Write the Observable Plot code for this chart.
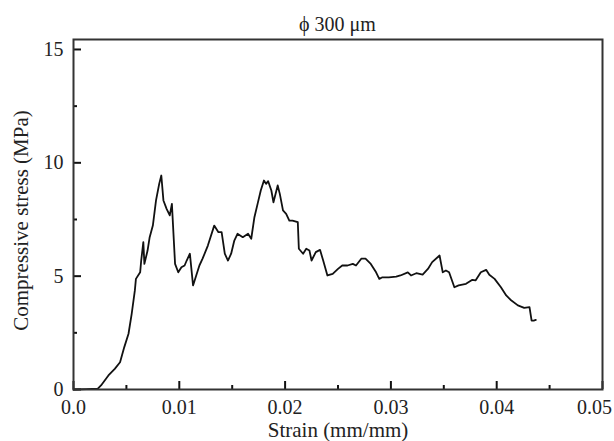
<!DOCTYPE html>
<html>
<head>
<meta charset="utf-8">
<script src="https://cdn.jsdelivr.net/npm/d3@7"></script>
<script src="https://cdn.jsdelivr.net/npm/@observablehq/plot@0.6"></script>
<style>
  html, body { margin: 0; padding: 0; background: #fff; }
  #wrap { position: relative; width: 614px; height: 441px; font-family: "Liberation Serif", "Times New Roman", serif; }
  #title { position: absolute; left: 73px; width: 529px; top: 0; text-align: center; font-size: 20px; line-height: 20px; padding-top: 14px; color: #222; }
</style>
</head>
<body>
<div id="wrap"><div id="title"></div></div>
<script>
const titleText = "ϕ 300 μm";
const xLabel = "Strain (mm/mm)";
const yLabel = "Compressive stress (MPa)";

const strain = [0, 0.0012, 0.0023, 0.0026, 0.0033, 0.0039, 0.0044, 0.0048, 0.0052, 0.0055,
  0.0058, 0.0059, 0.0063, 0.0064, 0.0066, 0.0067, 0.0070, 0.0072, 0.0075, 0.0078,
  0.0081, 0.0083, 0.0085, 0.0088, 0.0091, 0.0093, 0.0096, 0.0099, 0.0102, 0.0105,
  0.0107, 0.0110, 0.0113, 0.0116, 0.0119, 0.0122, 0.0127, 0.0133, 0.0137, 0.0140,
  0.0143, 0.0146, 0.0149, 0.0152, 0.0155, 0.0160, 0.0165, 0.0168, 0.0171, 0.0174,
  0.0177, 0.0180, 0.0182, 0.0184, 0.0187, 0.0189, 0.0193, 0.0195, 0.0198, 0.0201,
  0.0204, 0.0207, 0.0212, 0.0213, 0.0217, 0.0220, 0.0223, 0.0225, 0.0229, 0.0233,
  0.0236, 0.0240, 0.0245, 0.0250, 0.0254, 0.0259, 0.0264, 0.0267, 0.0272, 0.0276,
  0.0281, 0.0286, 0.0289, 0.0292, 0.0298, 0.0305, 0.0309, 0.0316, 0.0319, 0.0324,
  0.0330, 0.0335, 0.0339, 0.0346, 0.0349, 0.0352, 0.0355, 0.0360, 0.0364, 0.0371,
  0.0377, 0.0380, 0.0385, 0.0390, 0.0393, 0.0398, 0.0404, 0.0409, 0.0413, 0.0420,
  0.0426, 0.0431, 0.0433, 0.0435, 0.0437];

const stress = [0, 0.02, 0.04, 0.18, 0.62, 0.91, 1.20, 1.87, 2.46, 3.34,
  4.37, 4.88, 5.17, 5.69, 6.50, 5.54, 6.13, 6.72, 7.23, 8.34,
  9.07, 9.44, 8.34, 7.97, 7.68, 8.19, 5.54, 5.17, 5.39, 5.47,
  5.69, 5.99, 4.59, 5.03, 5.47, 5.77, 6.35, 7.23, 6.94, 6.94,
  5.99, 5.69, 5.99, 6.57, 6.87, 6.72, 6.87, 6.65, 7.60, 8.19,
  8.78, 9.22, 9.07, 9.19, 8.78, 8.26, 9.00, 8.63, 7.90, 7.75,
  7.45, 7.45, 7.38, 6.21, 5.99, 6.21, 6.13, 5.69, 6.06, 6.16,
  5.69, 5.03, 5.10, 5.32, 5.47, 5.47, 5.54, 5.47, 5.77, 5.77,
  5.54, 5.17, 4.88, 4.95, 4.95, 4.98, 5.03, 5.17, 5.03, 5.13,
  5.07, 5.32, 5.62, 5.91, 5.17, 5.25, 5.17, 4.51, 4.59, 4.66,
  4.84, 4.81, 5.17, 5.28, 5.06, 4.88, 4.51, 4.15, 3.96, 3.71,
  3.60, 3.63, 3.04, 3.04, 3.07];

const xTicks = [0, 0.01, 0.02, 0.03, 0.04, 0.05];
const xTickLabels = ["0.0", "0.01", "0.02", "0.03", "0.04", "0.05"];
const xMinorTicks = [0.005, 0.015, 0.025, 0.035, 0.045];
const yTicks = [0, 5, 10, 15];
const yTickLabels = ["0", "5", "10", "15"];
const yMinorTicks = [2.5, 7.5, 12.5];

const data = strain.map((s, i) => ({strain: s, stress: stress[i]}));

const W = 614, H = 441, mT = 39, mB = 52, mL = 73, mR = 12;
const plotW = W - mL - mR, plotH = H - mT - mB;
const xDomain = [0, 0.05], yDomain = [0, 15.44];
// tick lengths in pixels, converted through the scales' pixel ratio
const majorLen = 8, minorLen = 4;
const xPerPx = (xDomain[1] - xDomain[0]) / plotW;
const yPerPx = (yDomain[1] - yDomain[0]) / plotH;
const ink = "#222";
const lastX = xTicks.length - 1;

const tickStyle = {stroke: "#111", strokeWidth: 2};

const chart = Plot.plot({
  width: W,
  height: H,
  marginTop: mT,
  marginBottom: mB,
  marginLeft: mL,
  marginRight: mR,
  style: {fontFamily: "'Liberation Serif', 'Times New Roman', serif", fontSize: "20px", color: ink, background: "#fff"},
  x: {domain: xDomain},
  y: {domain: yDomain},
  marks: [
    Plot.line(data, {x: "strain", y: "stress", stroke: "#111", strokeWidth: 1.8, strokeLinejoin: "round"}),
    Plot.ruleX(xTicks, {x: d => d, y1: yDomain[0], y2: yDomain[0] + majorLen * yPerPx, ...tickStyle}),
    Plot.ruleX(xMinorTicks, {x: d => d, y1: yDomain[0], y2: yDomain[0] + minorLen * yPerPx, ...tickStyle}),
    Plot.ruleY(yTicks, {y: d => d, x1: xDomain[0], x2: xDomain[0] + majorLen * xPerPx, ...tickStyle}),
    Plot.ruleY(yMinorTicks, {y: d => d, x1: xDomain[0], x2: xDomain[0] + minorLen * xPerPx, ...tickStyle}),
    Plot.axisX(xTicks.slice(0, lastX), {tickSize: 0, tickPadding: 10, tickFormat: (d, i) => xTickLabels[i], label: null, fontSize: 20, fill: ink}),
    Plot.axisX(xTicks.slice(lastX), {tickSize: 0, tickPadding: 10, dx: -8, tickFormat: () => xTickLabels[lastX], label: null, fontSize: 20, fill: ink}),
    Plot.axisY(yTicks, {tickSize: 0, tickPadding: 10, tickFormat: (d, i) => yTickLabels[i], label: null, fontSize: 20, fill: ink}),
    Plot.text([xLabel], {text: d => d, frameAnchor: "bottom", lineAnchor: "bottom", dy: 47, fontSize: 21, fill: ink}),
    Plot.text([yLabel], {text: d => d, frameAnchor: "left", rotate: -90, textAnchor: "middle", lineAnchor: "middle", dx: -52, dy: 6, fontSize: 21, fill: ink}),
    Plot.frame({stroke: "#333", strokeWidth: 2})
  ]
});
document.getElementById("wrap").appendChild(chart);
document.getElementById("title").textContent = titleText;
</script>
</body>
</html>
